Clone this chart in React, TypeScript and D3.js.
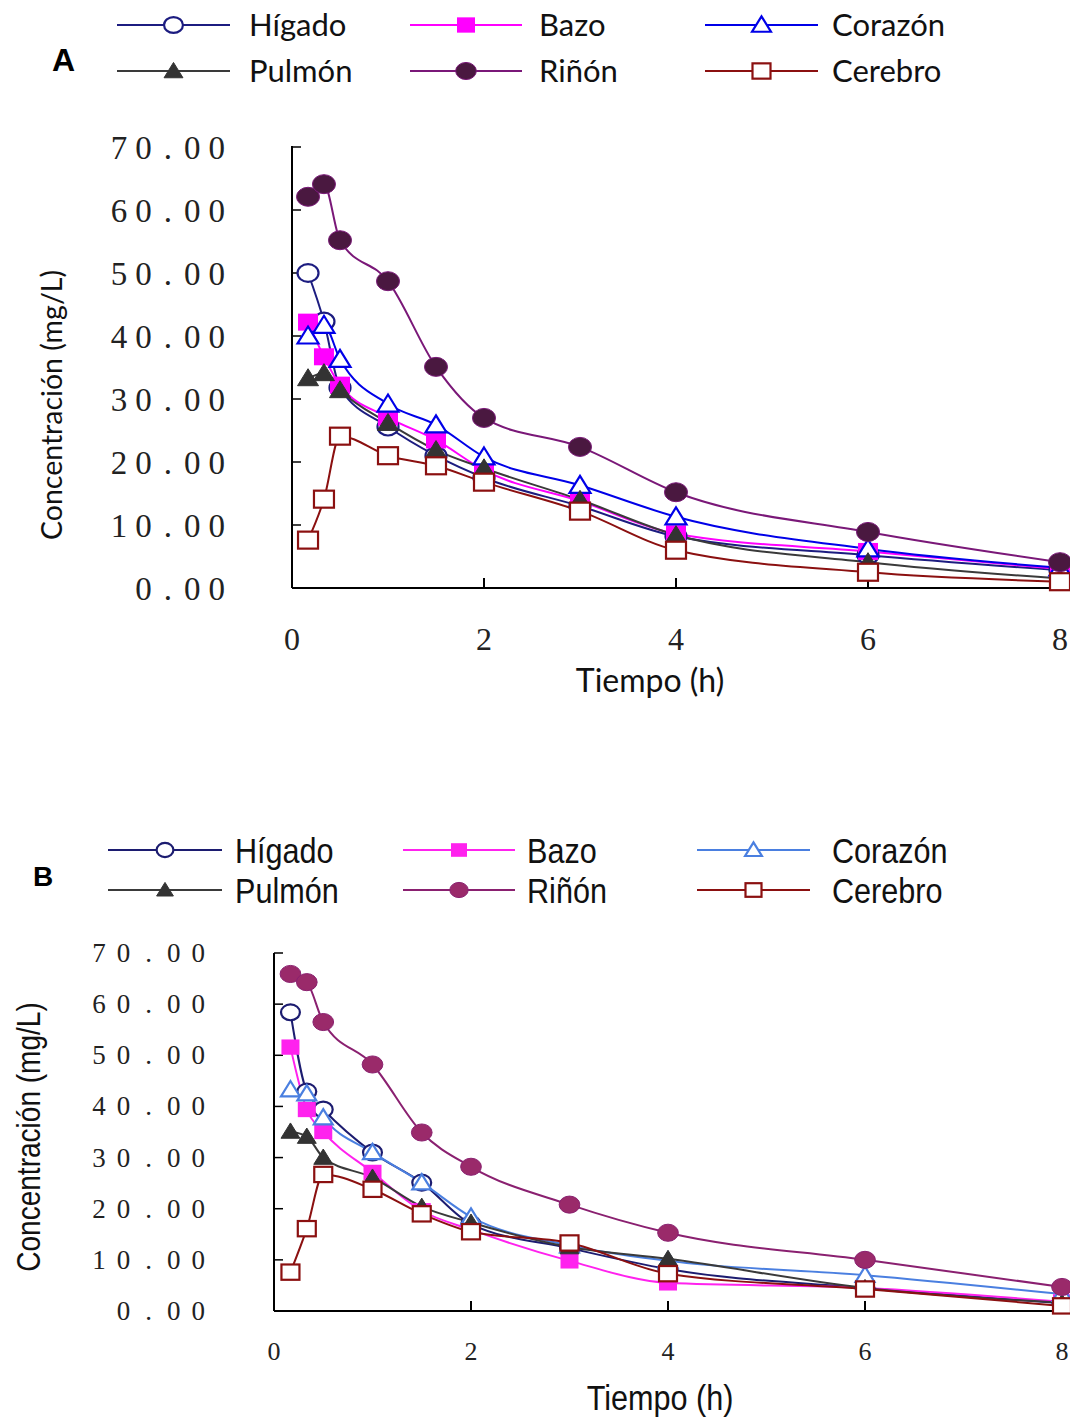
import React from 'react';
import * as d3 from 'd3';

// tiempos de muestreo (h)
const times = [0.167, 0.333, 0.5, 1, 1.5, 2, 3, 4, 6, 8];
const organs = ['Hígado', 'Bazo', 'Corazón', 'Pulmón', 'Riñón', 'Cerebro'];
const yTicks = [0, 10, 20, 30, 40, 50, 60, 70];
const yTickLabels = ['0.00', '10.00', '20.00', '30.00', '40.00', '50.00', '60.00', '70.00'];
const xTicks = [0, 2, 4, 6, 8];

// Panel A
const higadoA = [50.0, 42.3, 31.8, 25.6, 21.0, 17.5, 13.0, 8.2, 5.2, 2.8];
const bazoA = [42.2, 36.7, 32.2, 27.1, 23.5, 18.7, 13.8, 8.6, 5.8, 3.0];
const corazonA = [40.0, 41.7, 36.3, 29.2, 25.9, 20.8, 16.3, 11.3, 6.2, 3.2];
const pulmonA = [33.3, 34.1, 31.4, 26.2, 21.9, 19.0, 14.0, 8.4, 4.1, 1.5];
const rinonA = [62.1, 64.1, 55.2, 48.7, 35.1, 27.0, 22.4, 15.2, 8.9, 4.1];
const cerebroA = [7.6, 14.1, 24.1, 21.0, 19.4, 16.8, 12.2, 6.0, 2.5, 1.0];

// Panel B
const higadoB = [58.4, 42.9, 39.4, 31.0, 25.1, 17.0, 12.3, 8.2, 4.5, 1.5];
const bazoB = [51.6, 39.4, 35.1, 27.1, 19.6, 15.9, 9.8, 5.5, 4.5, 1.8];
const corazonB = [43.3, 42.5, 37.8, 31.0, 25.1, 18.4, 12.8, 9.8, 7.0, 3.3];
const pulmonB = [35.1, 34.1, 30.0, 26.1, 20.4, 17.3, 12.5, 10.2, 4.5, 1.6];
const rinonB = [65.9, 64.3, 56.5, 48.2, 34.9, 28.2, 20.8, 15.3, 10.0, 4.7];
const cerebroB = [7.6, 16.1, 26.7, 23.8, 19.0, 15.5, 13.3, 7.3, 4.3, 1.0];

const shapes = ['circleOpen', 'squareFill', 'triOpen', 'triFill', 'circleFill', 'squareOpen'];

function Marker({ shape, x, y, color, fill, s }) {
  const sw = 2.2;
  if (shape === 'circleOpen') return <ellipse cx={x} cy={y} rx={s * 1.05} ry={s * 0.88} fill="#fff" stroke={color} strokeWidth={sw} />;
  if (shape === 'circleFill') return <ellipse cx={x} cy={y} rx={s * 1.15} ry={s * 0.95} fill={fill} stroke={color} strokeWidth={1} />;
  if (shape === 'squareFill') return <rect x={x - s} y={y - s * 0.85} width={s * 2} height={s * 1.7} fill={color} />;
  if (shape === 'squareOpen') return <rect x={x - s} y={y - s * 0.85} width={s * 2} height={s * 1.7} fill="#fff" stroke={color} strokeWidth={sw} />;
  const tri = `M${x},${y - s * 0.95}L${x + s * 1.05},${y + s * 0.75}L${x - s * 1.05},${y + s * 0.75}Z`;
  if (shape === 'triOpen') return <path d={tri} fill="#fff" stroke={color} strokeWidth={sw} />;
  return <path d={tri} fill={fill} stroke={fill} strokeWidth={1} />;
}

function Panel({ p }) {
  const x = d3.scaleLinear().domain([0, 8]).range(p.xr);
  const y = d3.scaleLinear().domain([0, 70]).range(p.yr);
  const line = d3.line<number>().x((d, i) => x(times[i])).y((d) => y(d)).curve(d3.curveMonotoneX);
  return (
    <g>
      <text x={p.tag[0]} y={p.tag[1]} fontFamily="Liberation Sans, Arial" fontWeight={700} fontSize={p.tagSize}>{p.tagText}</text>
      {/* leyenda */}
      {p.series.map((s, i) => {
        const col = i % 3;
        const row = Math.floor(i / 3);
        const ly = p.legRows[row];
        const [a, b] = p.legLines[col];
        return (
          <g key={s.name}>
            <line x1={a} x2={b} y1={ly} y2={ly} stroke={s.color} strokeWidth={2} />
            <Marker shape={shapes[i]} x={(a + b) / 2} y={ly} color={s.color} fill={s.fill} s={p.legMk} />
            <text transform={`translate(${p.legText[col]},${ly + p.legDy}) scale(${p.sx},1)`} fontFamily={p.legFont}
              fontSize={p.legSize} fill="#111">{s.name}</text>
          </g>
        );
      })}
      {/* ejes */}
      <line x1={p.xr[0]} x2={p.xr[0]} y1={p.yr[0]} y2={p.axisTop} stroke="#000" strokeWidth={2} />
      <line x1={p.xr[0]} x2={1070} y1={p.yr[0]} y2={p.yr[0]} stroke="#000" strokeWidth={2} />
      {yTicks.map((t, i) => {
        const [ent, dec] = yTickLabels[i].split('.');
        return (
          <g key={t}>
            <line x1={p.xr[0]} x2={p.xr[0] + 9} y1={y(t)} y2={y(t)} stroke="#000" strokeWidth={1.5} />
            <text x={p.yLabX} y={y(t) + p.yLabDy} textAnchor="end" fontFamily="Liberation Serif, DejaVu Serif, serif"
              fontSize={p.yLabSize} letterSpacing={p.yLabSp} fill="#222">
              {ent}<tspan dx={p.dotGap}>.</tspan><tspan dx={p.dotGap}>{dec}</tspan>
            </text>
          </g>
        );
      })}
      {xTicks.map((t) => (
        <g key={t}>
          <line x1={x(t)} x2={x(t)} y1={p.yr[0]} y2={p.yr[0] - 10} stroke="#000" strokeWidth={2} />
          <text x={x(t)} y={p.xLabY} textAnchor="middle" fontFamily="Liberation Serif, DejaVu Serif, serif"
            fontSize={p.xLabSize} fill="#222">{t}</text>
        </g>
      ))}
      <text transform={`translate(${p.xTitle[0]},${p.xTitle[1]}) scale(${p.sx},1)`} textAnchor="middle"
        fontFamily={p.legFont} fontSize={p.xTitleSize} fill="#111">Tiempo (h)</text>
      <text transform={`translate(${p.yTitle[0]},${p.yTitle[1]}) rotate(-90) scale(${p.sx},1)`} textAnchor="middle"
        fontFamily={p.legFont} fontSize={p.yTitleSize} fill="#111">Concentración (mg/L)</text>
      {/* series */}
      {p.series.map((s) => (
        <path key={s.name} d={line(s.values)} fill="none" stroke={s.color} strokeWidth={2} />
      ))}
      {p.series.map((s, i) => (
        <g key={s.name}>
          {s.values.map((v, j) => (
            <Marker key={j} shape={shapes[i]} x={x(times[j])} y={y(v)} color={s.color} fill={s.fill} s={p.mk} />
          ))}
        </g>
      ))}
    </g>
  );
}

export default function App() {
  const panelA = {
    xr: [292, 1060], yr: [588, 147], axisTop: 146,
    tag: [52, 71], tagText: 'A', tagSize: 32,
    legRows: [25, 71], legLines: [[117, 230], [410, 522], [705, 818]], legText: [249, 539, 832],
    legFont: 'Lato, Open Sans, sans-serif', legSize: 31, legDy: 11, legMk: 9, sx: 1,
    yLabX: 233, yLabDy: 12, yLabSize: 33, yLabSp: 8, dotGap: 4,
    xLabY: 650, xLabSize: 32,
    xTitle: [650, 692], yTitle: [62, 405], xTitleSize: 32, yTitleSize: 28.5, mk: 10,
    series: [
      { name: organs[0], values: higadoA, color: '#1c1c80', fill: '#fff' },
      { name: organs[1], values: bazoA, color: '#ff00ff', fill: '#ff00ff' },
      { name: organs[2], values: corazonA, color: '#0000e8', fill: '#fff' },
      { name: organs[3], values: pulmonA, color: '#3a3a3a', fill: '#333' },
      { name: organs[4], values: rinonA, color: '#7a1878', fill: '#4a1840' },
      { name: organs[5], values: cerebroA, color: '#8b1010', fill: '#fff' },
    ],
  };
  const panelB = {
    xr: [274, 1062], yr: [1311, 953], axisTop: 953,
    tag: [33, 886], tagText: 'B', tagSize: 28,
    legRows: [850, 890], legLines: [[108, 222], [403, 515], [697, 810]], legText: [235, 527, 832],
    legFont: 'Liberation Sans, Arial, sans-serif', legSize: 36, legDy: 13, legMk: 8, sx: 0.85,
    yLabX: 216, yLabDy: 9, yLabSize: 27, yLabSp: 11, dotGap: 4,
    xLabY: 1360, xLabSize: 26,
    xTitle: [660, 1410], yTitle: [40, 1137], xTitleSize: 36, yTitleSize: 33, mk: 9,
    series: [
      { name: organs[0], values: higadoB, color: '#1c1c70', fill: '#fff' },
      { name: organs[1], values: bazoB, color: '#ff22ee', fill: '#ff00ff' },
      { name: organs[2], values: corazonB, color: '#4a7fe0', fill: '#fff' },
      { name: organs[3], values: pulmonB, color: '#3a3a3a', fill: '#333' },
      { name: organs[4], values: rinonB, color: '#8a2070', fill: '#9a2a6a' },
      { name: organs[5], values: cerebroB, color: '#8b1010', fill: '#fff' },
    ],
  };
  return (
    <svg width={1070} height={1418} style={{ position: 'absolute', left: 0, top: 0, background: '#fff' }}>
      <rect width={1070} height={1418} fill="#fff" />
      <Panel p={panelA} />
      <Panel p={panelB} />
    </svg>
  );
}
